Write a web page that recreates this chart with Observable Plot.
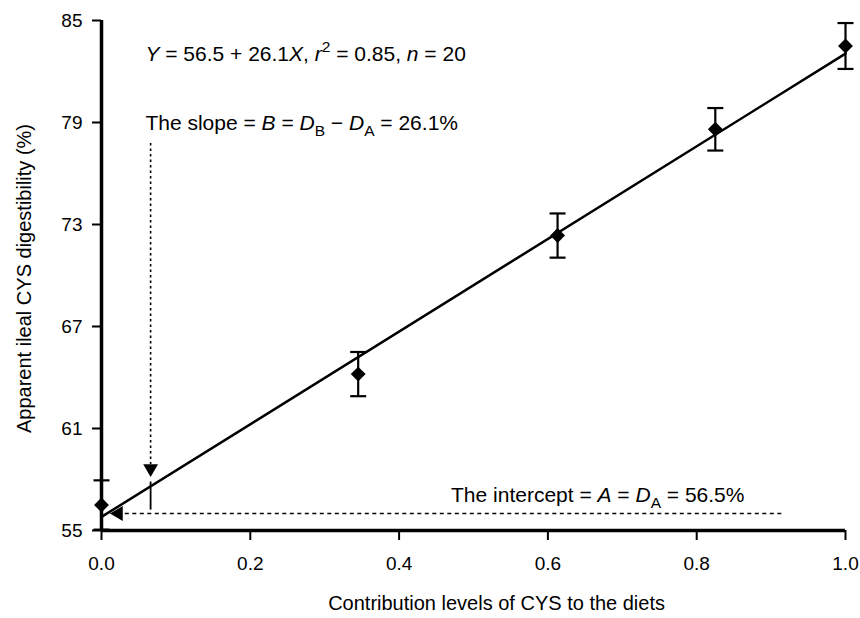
<!DOCTYPE html>
<html>
<head>
<meta charset="utf-8">
<script src="https://cdn.jsdelivr.net/npm/d3@7"></script>
<script src="https://cdn.jsdelivr.net/npm/@observablehq/plot@0.6"></script>
<style>
  body { margin: 0; background: #fff; }
  #chart { width: 860px; height: 618px; }
</style>
</head>
<body>
<div id="chart"></div>
<script>
// ---- data ----
const contribution = [0, 0.345, 0.613, 0.825, 1.0];
const digestibility = [56.5, 64.2, 72.35, 78.6, 83.5];
const sem = [1.45, 1.3, 1.3, 1.25, 1.35];

// fitted line as drawn (end points)
const fitX = [0, 1.0];
const fitY = [55.8, 83.05];

const xTicks = [0, 0.2, 0.4, 0.6, 0.8, 1.0];
const yTicks = [55, 61, 67, 73, 79, 85];

const xTitle = "Contribution levels of CYS to the diets";
const yTitle = "Apparent ileal CYS digestibility (%)";

// annotation texts (segments: i = italic, sup / sub)
const eqSegs = [{t: "Y", i: true}, {t: " = 56.5 + 26.1"}, {t: "X", i: true}, {t: ", "}, {t: "r", i: true}, {t: "2", sup: true}, {t: " = 0.85, "}, {t: "n", i: true}, {t: " = 20"}];
const slopeSegs = [{t: "The slope = "}, {t: "B", i: true}, {t: " = "}, {t: "D", i: true}, {t: "B", sub: true}, {t: " − "}, {t: "D", i: true}, {t: "A", sub: true}, {t: " = 26.1%"}];
const interceptSegs = [{t: "The intercept = "}, {t: "A", i: true}, {t: " = "}, {t: "D", i: true}, {t: "A", sub: true}, {t: " = 56.5%"}];

// annotation anchors (data units)
const eqPos = [0.059, 83.0];
const slopePos = [0.059, 78.97];
const interceptPos = [0.667, 57.06];
const slopeArrowX = 0.066;
const slopeArrowY = [77.76, 58.88];   // dotted shaft top / bottom
const slopeHeadY = 58.65;              // arrow head centre
const slopeTickY = [57.85, 56.2];      // short solid marker
const interceptArrowY = 56.0;
const interceptArrowX = [0.032, 0.915];
const interceptHeadX = 0.0228;

// ---- build ----
const pts = contribution.map((x, i) => ({x, y: digestibility[i], lo: digestibility[i] - sem[i], hi: digestibility[i] + sem[i]}));
const fit = fitX.map((x, i) => ({x, y: fitY[i]}));

const cap = { draw(ctx) { ctx.moveTo(-8, 0); ctx.lineTo(8, 0); } };
const FONT = "'Liberation Sans', Arial, Helvetica, sans-serif";
const FS = 21;
const plain = segs => segs.map(s => s.t).join("");

const chart = Plot.plot({
  width: 860,
  height: 618,
  marginLeft: 101,
  marginRight: 15,
  marginTop: 20,
  marginBottom: 88,
  style: {fontFamily: FONT, background: "#fff", color: "#000"},
  x: {domain: [0, 1], label: null},
  y: {domain: [55, 85], label: null},
  marks: [
    Plot.axisX({ticks: xTicks, tickFormat: d => d.toFixed(1), tickSize: 10, tickPadding: 16, fontSize: 19, strokeWidth: 2, label: null}),
    Plot.axisY({ticks: yTicks, tickSize: 9, tickPadding: 10, fontSize: 19, strokeWidth: 2, label: null}),
    // error bars
    Plot.ruleX(pts, {x: "x", y1: "lo", y2: "hi", stroke: "#000", strokeWidth: 2.2}),
    Plot.dot(pts, {x: "x", y: "lo", symbol: cap, fill: "none", stroke: "#000", strokeWidth: 2.2}),
    Plot.dot(pts, {x: "x", y: "hi", symbol: cap, fill: "none", stroke: "#000", strokeWidth: 2.2}),
    // fitted line
    Plot.line(fit, {x: "x", y: "y", stroke: "#000", strokeWidth: 2.5}),
    // slope annotation
    Plot.ruleX([slopeArrowX], {y1: slopeArrowY[0], y2: slopeArrowY[1], stroke: "#000", strokeWidth: 1.6, strokeDasharray: "2.5,3"}),
    Plot.dot([slopeArrowX], {x: d => d, y: () => slopeHeadY, symbol: "triangle", rotate: 180, r: 5.5, fill: "#000", stroke: "none"}),
    Plot.ruleX([slopeArrowX], {y1: slopeTickY[0], y2: slopeTickY[1], stroke: "#000", strokeWidth: 1.8}),
    // intercept annotation
    Plot.ruleY([interceptArrowY], {x1: interceptArrowX[0], x2: interceptArrowX[1], stroke: "#000", strokeWidth: 1.6, strokeDasharray: "4,3.5"}),
    Plot.dot([interceptHeadX], {x: d => d, y: () => interceptArrowY, symbol: "triangle", rotate: -90, r: 5.5, fill: "#000", stroke: "none"}),
    // data points
    Plot.dot(pts, {x: "x", y: "y", symbol: "diamond2", r: 6.7, fill: "#000", stroke: "none"}),
    // axis lines
    Plot.ruleX([0], {stroke: "#000", strokeWidth: 3.5}),
    Plot.ruleY([55], {stroke: "#000", strokeWidth: 3.5}),
    // annotation texts
    Plot.text([plain(eqSegs)], {x: () => eqPos[0], y: () => eqPos[1], text: d => d, textAnchor: "start", fontSize: FS}),
    Plot.text([plain(slopeSegs)], {x: () => slopePos[0], y: () => slopePos[1], text: d => d, textAnchor: "start", fontSize: FS}),
    Plot.text([plain(interceptSegs)], {x: () => interceptPos[0], y: () => interceptPos[1], text: d => d, textAnchor: "middle", fontSize: FS}),
    // axis titles
    Plot.text([xTitle], {x: () => 0.531, frameAnchor: "bottom", dy: 73, text: d => d, fontSize: 20, textAnchor: "middle", lineAnchor: "middle"}),
    Plot.text([yTitle], {frameAnchor: "left", dx: -77, dy: 3, rotate: -90, text: d => d, fontSize: 20, textAnchor: "middle", lineAnchor: "middle"})
  ]
});

function rich(svg, segs, fs) {
  const want = plain(segs);
  const t = Array.from(svg.querySelectorAll("text")).find(e => e.textContent === want);
  if (!t) return;
  t.textContent = "";
  let shift = 0;
  for (const s of segs) {
    const ts = document.createElementNS("http://www.w3.org/2000/svg", "tspan");
    ts.textContent = s.t;
    const target = s.sup ? -0.42 * fs : s.sub ? 0.28 * fs : 0;
    if (target !== shift) { ts.setAttribute("dy", target - shift); shift = target; }
    if (s.i) ts.setAttribute("font-style", "italic");
    if (s.sup || s.sub) ts.setAttribute("font-size", 0.74 * fs);
    t.appendChild(ts);
  }
}
rich(chart, eqSegs, FS);
rich(chart, slopeSegs, FS);
rich(chart, interceptSegs, FS);

document.getElementById("chart").appendChild(chart);
</script>
</body>
</html>
